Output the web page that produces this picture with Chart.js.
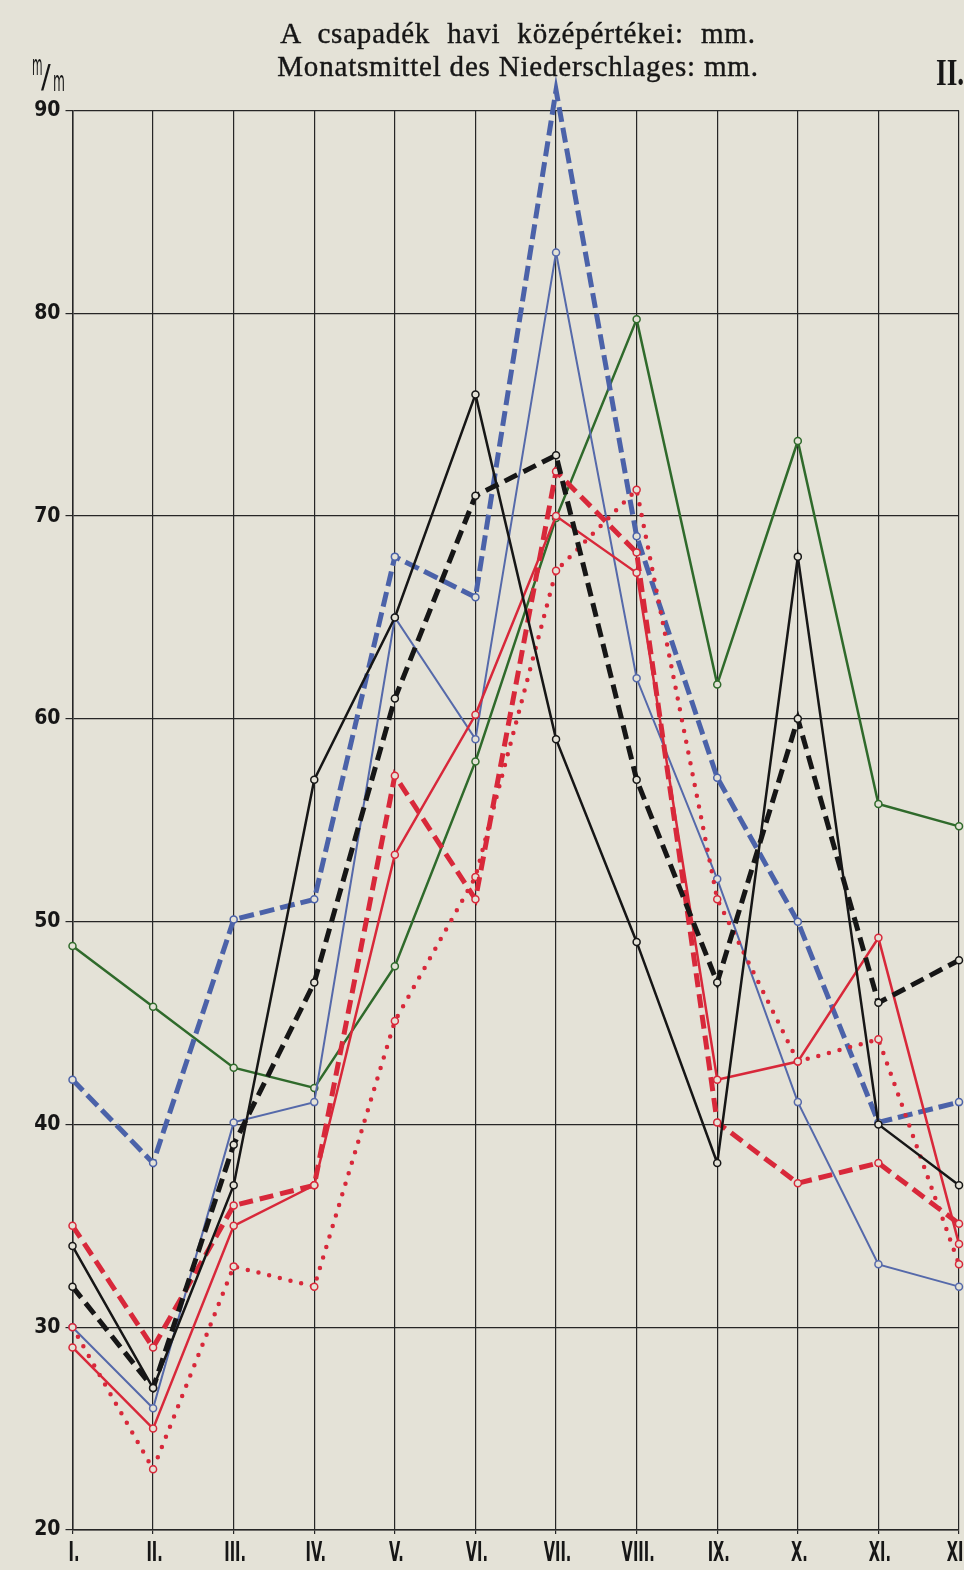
<!DOCTYPE html>
<html>
<head>
<meta charset="utf-8">
<script src="https://cdn.jsdelivr.net/npm/chart.js@4/dist/chart.umd.min.js"></script>
<style>
  html, body { margin: 0; padding: 0; width: 964px; height: 1570px; overflow: hidden; background: #e4e2d7; }
  #wrap { position: relative; width: 964px; height: 1570px; overflow: hidden; }
  canvas { position: absolute; left: 0; top: 0; }
  .t { position: absolute; font-family: "Liberation Serif", "DejaVu Serif", serif; color: #161616; white-space: nowrap; }
  .sm { position: absolute; font-family: "DejaVu Sans Condensed", "DejaVu Sans", sans-serif; color: #161616; white-space: nowrap; }
</style>
</head>
<body>
<div id="wrap">
  <canvas id="c" width="1000" height="1570"></canvas>
  <div class="t" style="left:0;width:1036px;text-align:center;top:17px;font-size:29px;letter-spacing:0.8px;word-spacing:9px;-webkit-text-stroke:0.4px #161616;">A csapadék havi középértékei: mm.</div>
  <div class="t" style="left:0;width:1036px;text-align:center;top:50px;font-size:29px;letter-spacing:0.8px;-webkit-text-stroke:0.4px #161616;">Monatsmittel des Niederschlages: mm.</div>
  <div class="t" style="left:936px;top:50px;font-size:38px;font-weight:bold;transform:scaleX(0.72);transform-origin:0 0;">II.</div>
  <div class="sm" style="left:32px;top:52px;font-size:16px;line-height:16px;transform:scale(0.75,1.75);transform-origin:0 0;">m</div>
  <div class="sm" style="left:41px;top:58px;font-size:32px;line-height:36px;">/</div>
  <div class="sm" style="left:53px;top:68px;font-size:16px;line-height:16px;transform:scale(0.85,1.75);transform-origin:0 0;">m</div>
</div>
<script>
const months = ['I.', 'II.', 'III.', 'IV.', 'V.', 'VI.', 'VII.', 'VIII.', 'IX.', 'X.', 'XI.', 'XII.'];
const yTickValues = [20, 30, 40, 50, 60, 70, 80, 90];

const greenSolid  = [48.8, 45.8, 42.8, 41.8, 47.8, 57.9, 69.9, 79.7, 61.7, 73.7, 55.8, 54.7];
const blueDashed  = [42.2, 38.1, 50.1, 51.1, 68.0, 66.0, 91.0, 69.0, 57.1, 50.0, 40.1, 41.1];
const blueSolid   = [30.0, 26.0, 40.1, 41.1, 65.0, 59.0, 83.0, 62.0, 52.1, 41.1, 33.1, 32.0];
const blackSolid  = [34.0, 27.0, 37.0, 57.0, 65.0, 76.0, 59.0, 49.0, 38.1, 68.0, 40.0, 37.0];
const blackDashed = [32.0, 27.0, 39.0, 47.0, 61.0, 71.0, 73.0, 57.0, 47.0, 60.0, 46.0, 48.1];
const redSolid    = [29.0, 25.0, 35.0, 37.0, 53.3, 60.2, 70.0, 67.2, 42.2, 43.1, 49.2, 34.1];
const redDashed   = [35.0, 29.0, 36.0, 37.0, 57.2, 51.1, 72.2, 68.2, 40.1, 37.1, 38.1, 35.1];
const redDotted   = [30.0, 23.0, 33.0, 32.0, 45.1, 52.2, 67.3, 71.3, 51.1, 43.1, 44.2, 33.1];

const PAPER = '#e4e2d7';
const GREEN = '#2f6a2b';
const BLUE = '#4b62a9';
const BLUE2 = '#5569aa';
const BLACK = '#161616';
const RED = '#d8283a';

function ds(data, color, width, dash, cap) {
  return {
    data: data,
    borderColor: color,
    borderWidth: width,
    borderDash: dash || [],
    borderCapStyle: cap || 'butt',
    borderJoinStyle: 'miter',
    tension: 0,
    fill: false,
    clip: false,
    pointRadius: 3.5,
    pointBorderWidth: 1.5,
    pointBorderColor: color,
    pointBackgroundColor: PAPER,
    pointHoverRadius: 3.5
  };
}

const bg = {
  id: 'bg',
  beforeDraw(chart) {
    const ctx = chart.ctx;
    ctx.save();
    ctx.fillStyle = PAPER;
    ctx.fillRect(0, 0, chart.width, chart.height);
    ctx.restore();
  }
};

// condensed month labels, placed through the x scale
const monthLabels = {
  id: 'monthLabels',
  afterDraw(chart) {
    const ctx = chart.ctx;
    const xs = chart.scales.x;
    const base = chart.chartArea.bottom + 31;
    ctx.save();
    ctx.fillStyle = '#161616';
    ctx.font = 'bold 26px "DejaVu Sans", sans-serif';
    ctx.textAlign = 'center';
    ctx.textBaseline = 'alphabetic';
    months.forEach((m, i) => {
      const x = xs.getPixelForValue(i) + 1.5;
      ctx.save();
      ctx.translate(x, base);
      ctx.scale(0.56, 1);
      ctx.fillText(m, 0, 0);
      ctx.restore();
    });
    ctx.restore();
  }
};

new Chart(document.getElementById('c'), {
  type: 'line',
  data: {
    labels: months,
    datasets: [
      ds(blackSolid, BLACK, 2.5),
      ds(blackDashed, BLACK, 5, [14, 7]),
      ds(redSolid, RED, 2.5),
      ds(redDashed, RED, 5, [14, 7]),
      ds(redDotted, RED, 4.5, [0, 11], 'round'),
      ds(blueSolid, BLUE2, 2),
      ds(blueDashed, BLUE, 5, [15, 6]),
      ds(greenSolid, GREEN, 2.5)
    ]
  },
  options: {
    responsive: false,
    animation: false,
    events: [],
    layout: { padding: { left: 0, right: 41, top: 110.5, bottom: 0 } },
    plugins: { legend: { display: false }, tooltip: { enabled: false }, title: { display: false } },
    scales: {
      x: {
        offset: false,
        grid: { color: '#262626', lineWidth: 1.2, tickLength: 4, drawTicks: true },
        border: { display: true, color: '#262626', width: 1.5 },
        ticks: { display: false, autoSkip: false, maxRotation: 0 },
        afterFit(s) { s.height = 40; }
      },
      y: {
        min: 20,
        max: 90,
        afterBuildTicks(s) { s.ticks = yTickValues.map(v => ({ value: v })); },
        grid: { color: '#262626', lineWidth: 1.2, tickLength: 7, drawTicks: true },
        border: { display: true, color: '#262626', width: 1.5 },
        ticks: {
          color: '#161616',
          padding: 5,
          font: { family: '"DejaVu Sans Condensed", "DejaVu Sans", sans-serif', size: 21, weight: 'bold' },
          callback: v => String(v)
        },
        afterFit(s) { s.width = 72.5; }
      }
    }
  },
  plugins: [bg, monthLabels]
});
</script>
</body>
</html>
